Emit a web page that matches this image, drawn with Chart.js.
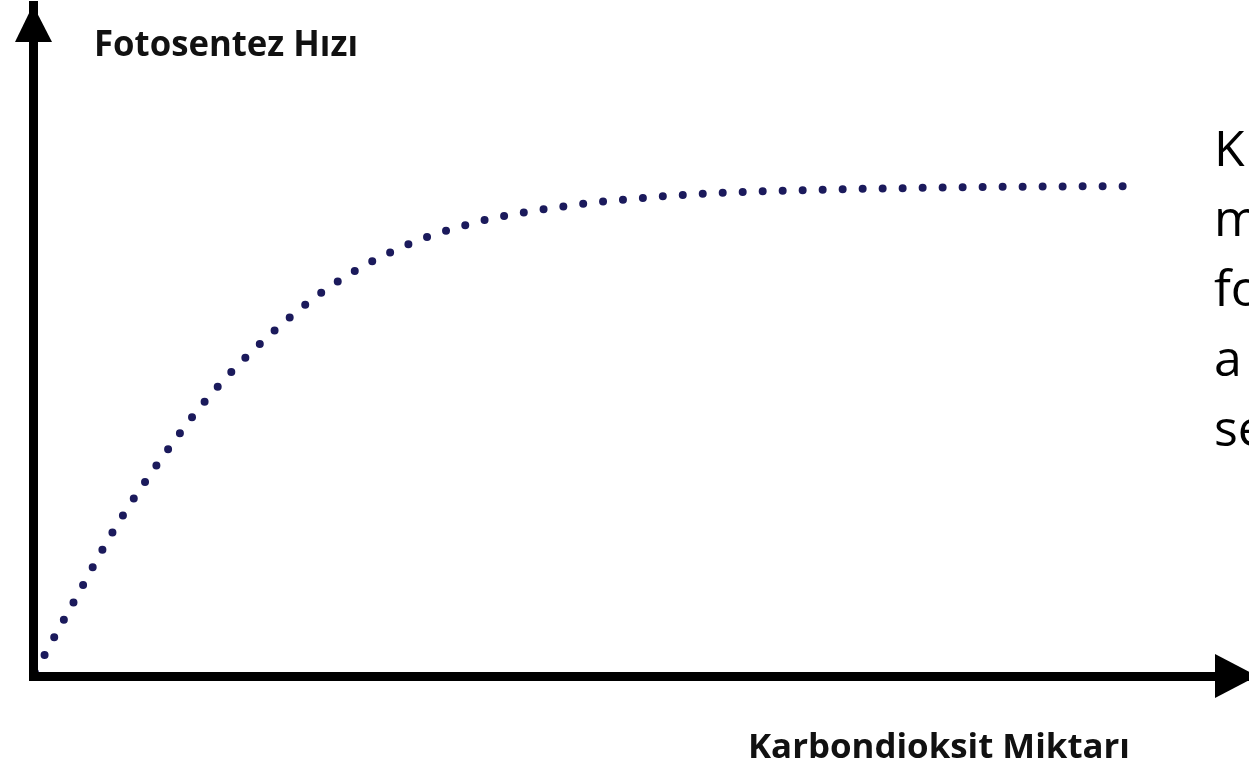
<!DOCTYPE html>
<html><head><meta charset="utf-8">
<script src="https://cdn.jsdelivr.net/npm/chart.js@4/dist/chart.umd.min.js"></script>
<style>html,body{margin:0;padding:0;background:#fff;overflow:hidden}#wrap{width:1249px;height:761px;position:relative}canvas{display:block}</style>
</head><body><div id="wrap"><canvas id="c" width="1249" height="761"></canvas></div>
<script>
// Data (arbitrary units, axes 0..100)
const co2Amount = [0, 3.4, 6.7, 10.4, 14.5, 19.2, 24.4, 30.3, 36.6, 43.3, 49.8, 56.6, 63.3, 71.3, 79.5, 90.2];
const photosynthesisRate = [0, 11.2, 21.9, 32.0, 41.7, 50.4, 58.0, 63.9, 67.7, 69.9, 71.2, 72.0, 72.4, 72.7, 72.9, 73.0];
const yAxisLabel = 'Fotosentez Hızı';
const xAxisLabel = 'Karbondioksit Miktarı';
const sideTextLines = ['K', 'm', 'fo', 'a', 'se'];

const points = co2Amount.map((x, i) => ({x: x, y: photosynthesisRate[i]}));

const extras = {
  id: 'extras',
  afterDraw(chart) {
    const ctx = chart.ctx;
    const a = chart.chartArea;
    ctx.save();
    ctx.fillStyle = '#000';
    // y-axis arrow head
    ctx.beginPath();
    ctx.moveTo(a.left, a.top);
    ctx.lineTo(a.left - 18, a.top + 37);
    ctx.lineTo(a.left + 19, a.top + 37);
    ctx.closePath();
    ctx.fill();
    // x-axis arrow head
    ctx.beginPath();
    ctx.moveTo(a.right + 8, a.bottom);
    ctx.lineTo(a.right - 34, a.bottom - 22);
    ctx.lineTo(a.right - 34, a.bottom + 22);
    ctx.closePath();
    ctx.fill();

    // axis labels (horizontally condensed to the width seen in the picture)
    function fitText(txt, x, baseline, targetW, size) {
      ctx.save();
      ctx.font = 'bold ' + size + 'px "Open Sans"';
      ctx.textBaseline = 'alphabetic';
      ctx.textAlign = 'left';
      const w = ctx.measureText(txt).width;
      const sx = targetW / w;
      ctx.translate(x, baseline);
      ctx.scale(sx, 1);
      ctx.fillText(txt, 0, 0);
      ctx.restore();
    }
    ctx.fillStyle = '#111';
    fitText(yAxisLabel, 94, 56, 264, 35);
    fitText(xAxisLabel, 748, 758, 382, 34);

    // side text (cut at the right edge)
    ctx.fillStyle = '#000';
    ctx.font = '50px "Open Sans"';
    ctx.textAlign = 'left';
    ctx.textBaseline = 'alphabetic';
    sideTextLines.forEach((t, i) => ctx.fillText(t, 1214, 166 + i * 70));
    ctx.restore();
  }
};

new Chart(document.getElementById('c'), {
  type: 'scatter',
  data: {
    datasets: [{
      data: points,
      showLine: true,
      pointRadius: 0,
      borderColor: '#1b1a5c',
      borderWidth: 8,
      borderDash: [0, 20],
      borderDashOffset: -4,
      borderCapStyle: 'round',
      cubicInterpolationMode: 'monotone'
    }]
  },
  options: {
    responsive: false,
    animation: false,
    devicePixelRatio: 1,
    layout: {padding: {left: 33, right: 0, top: 5, bottom: 85}},
    plugins: {legend: {display: false}, tooltip: {enabled: false}},
    scales: {
      x: {
        type: 'linear', min: 0, max: 100,
        grid: {display: false, drawTicks: false},
        ticks: {display: false},
        border: {display: true, color: '#000', width: 9, z: 1}
      },
      y: {
        type: 'linear', min: 0, max: 100,
        grid: {display: false, drawTicks: false},
        ticks: {display: false},
        border: {display: true, color: '#000', width: 9, z: 1}
      }
    }
  },
  plugins: [extras]
});
</script>
</body></html>
